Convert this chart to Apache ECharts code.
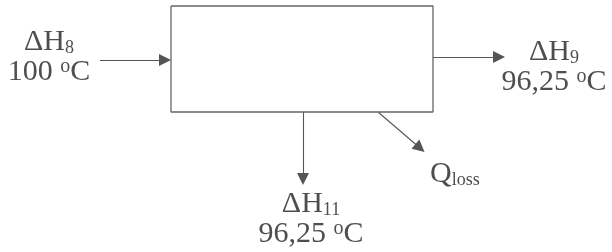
<!DOCTYPE html>
<html><head><meta charset="utf-8">
<script src="https://cdn.jsdelivr.net/npm/echarts@6/dist/echarts.min.js"></script>
<style>html,body{margin:0;padding:0;background:#fff}#c{width:612px;height:252px}</style>
</head><body><div id="c"></div>
<script>
// Diagram nodes (in pixel-like data units of a hidden 612x252 cartesian frame)
const boxCorners = [[171,6],[433,6],[433,112],[171,112],[171,6]];
const arrowStarts = [[100,60],[433,57],[303,112],[378,112]];
const arrowEnds   = [[165,60],[499,57],[303,179],[420,148]];
const labelMain = ['ΔH','ΔH','ΔH','Q'];
const labelSub  = ['8','9','11','loss'];
const labelTemp = ['100','96,25','96,25',''];
const labelPos  = [[49,57],[554,67],[311,219],[430,174]];
const labelAlign = ['center','center','center','left'];

const FONT = "'Liberation Serif','Times New Roman',serif";
const TXT = '#222';

const labelData = labelPos.map((p,i)=>{
  let f = '{m|'+labelMain[i]+'}{sub|'+labelSub[i]+'}';
  if (labelTemp[i]) f += '\n{m|'+labelTemp[i]+' }{sup|o}{m|C}';
  return {value:p, label:{formatter:f, align:labelAlign[i]}};
});

const chart = echarts.init(document.getElementById('c'));
chart.setOption({
  animation:false,
  grid:{left:0,right:0,top:0,bottom:0},
  xAxis:{type:'value',min:0,max:612,show:false},
  yAxis:{type:'value',min:0,max:252,inverse:true,show:false},
  series:[
    {type:'line',data:boxCorners,symbol:'none',lineStyle:{color:'#666',width:1.3}},
    {type:'lines',coordinateSystem:'cartesian2d',
     symbol:['none','triangle'],symbolSize:[10,12],
     lineStyle:{color:'#555',width:1.1,opacity:1},
     itemStyle:{color:'#333'},
     data:arrowStarts.map((s,i)=>({coords:[s,arrowEnds[i]]}))},
    {type:'scatter',symbolSize:0,data:labelData,
     label:{show:true,position:'inside',color:TXT,
       rich:{
         m:{fontFamily:FONT,fontSize:30,lineHeight:30,color:TXT,verticalAlign:'middle'},
         sub:{fontFamily:FONT,fontSize:18,lineHeight:18,color:TXT,verticalAlign:'bottom'},
         sup:{fontFamily:FONT,fontSize:20,lineHeight:14,color:TXT,verticalAlign:'top'}
       }}}
  ]
});
</script></body></html>
